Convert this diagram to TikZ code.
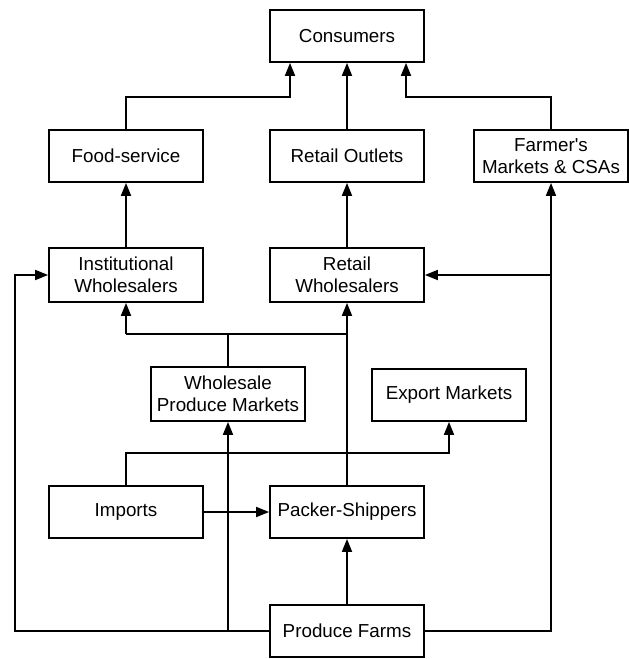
\documentclass[tikz,border=0pt]{standalone}
\usepackage{fontspec}
\setmainfont{Liberation Sans}
\usetikzlibrary{arrows.meta}
\begin{document}
\begin{tikzpicture}[x=1pt,y=-1pt,
  box/.style={draw, line width=1.8pt, minimum width=154pt, minimum height=52pt, inner sep=0pt, align=center, font=\fontsize{18.8}{22}\selectfont},
  conn/.style={line width=1.8pt},
  arr/.style={conn, -{Triangle[length=13pt,width=10pt]}}]
\useasboundingbox (0,0) rectangle (629,659);
\node[box] (consumers) at (347,36) {Consumers};
\node[box] (food) at (126,156) {Food-service};
\node[box] (outlets) at (347,156) {Retail Outlets};
\node[box] (farmers) at (551,156) {Farmer\textquotesingle s\\Markets \& CSAs};
\node[box, minimum height=54pt] (inst) at (126,275) {Institutional\\Wholesalers};
\node[box, minimum height=54pt] (rwhole) at (347,275) {Retail\\Wholesalers};
\node[box, minimum height=54pt] (wpm) at (228,394) {Wholesale\\Produce Markets};
\node[box] (export) at (449,395) {Export Markets};
\node[box] (imports) at (126,512) {Imports};
\node[box] (packer) at (347,512) {Packer-Shippers};
\node[box] (farms) at (347,631) {Produce Farms};

% to consumers
\draw[arr] (food.north) -- (food.north |- 0,97) -| ([xshift=-57pt]consumers.south);
\draw[arr] (outlets) -- (consumers);
\draw[arr] (farmers.north) -- (farmers.north |- 0,97) -| ([xshift=59pt]consumers.south);
% second tier
\draw[arr] (inst) -- (food);
\draw[arr] (rwhole) -- (outlets);
% packer and wholesale markets
\draw[arr] (packer) -- (rwhole);
\draw[conn] (wpm.north) -- (wpm.north |- 0,334);
\draw[conn] (inst.south |- 0,334) -- (rwhole.south |- 0,334);
\draw[arr] (inst.south |- 0,334) -- (inst.south);
% imports
\draw[arr] (imports.north) -- (imports.north |- 0,453) -| (export.south);
\draw[arr] (imports) -- (packer);
% produce farms
\draw[arr] (farms) -- (packer);
\draw[arr] (farms.west) -- (15,631) |- (inst.west);
\draw[arr] (wpm.south |- farms.west) -- (wpm.south);
\draw[arr] (farms.east) -| (farmers.south);
\draw[arr] (farmers.south |- rwhole.east) -- (rwhole.east);
\end{tikzpicture}
\end{document}
